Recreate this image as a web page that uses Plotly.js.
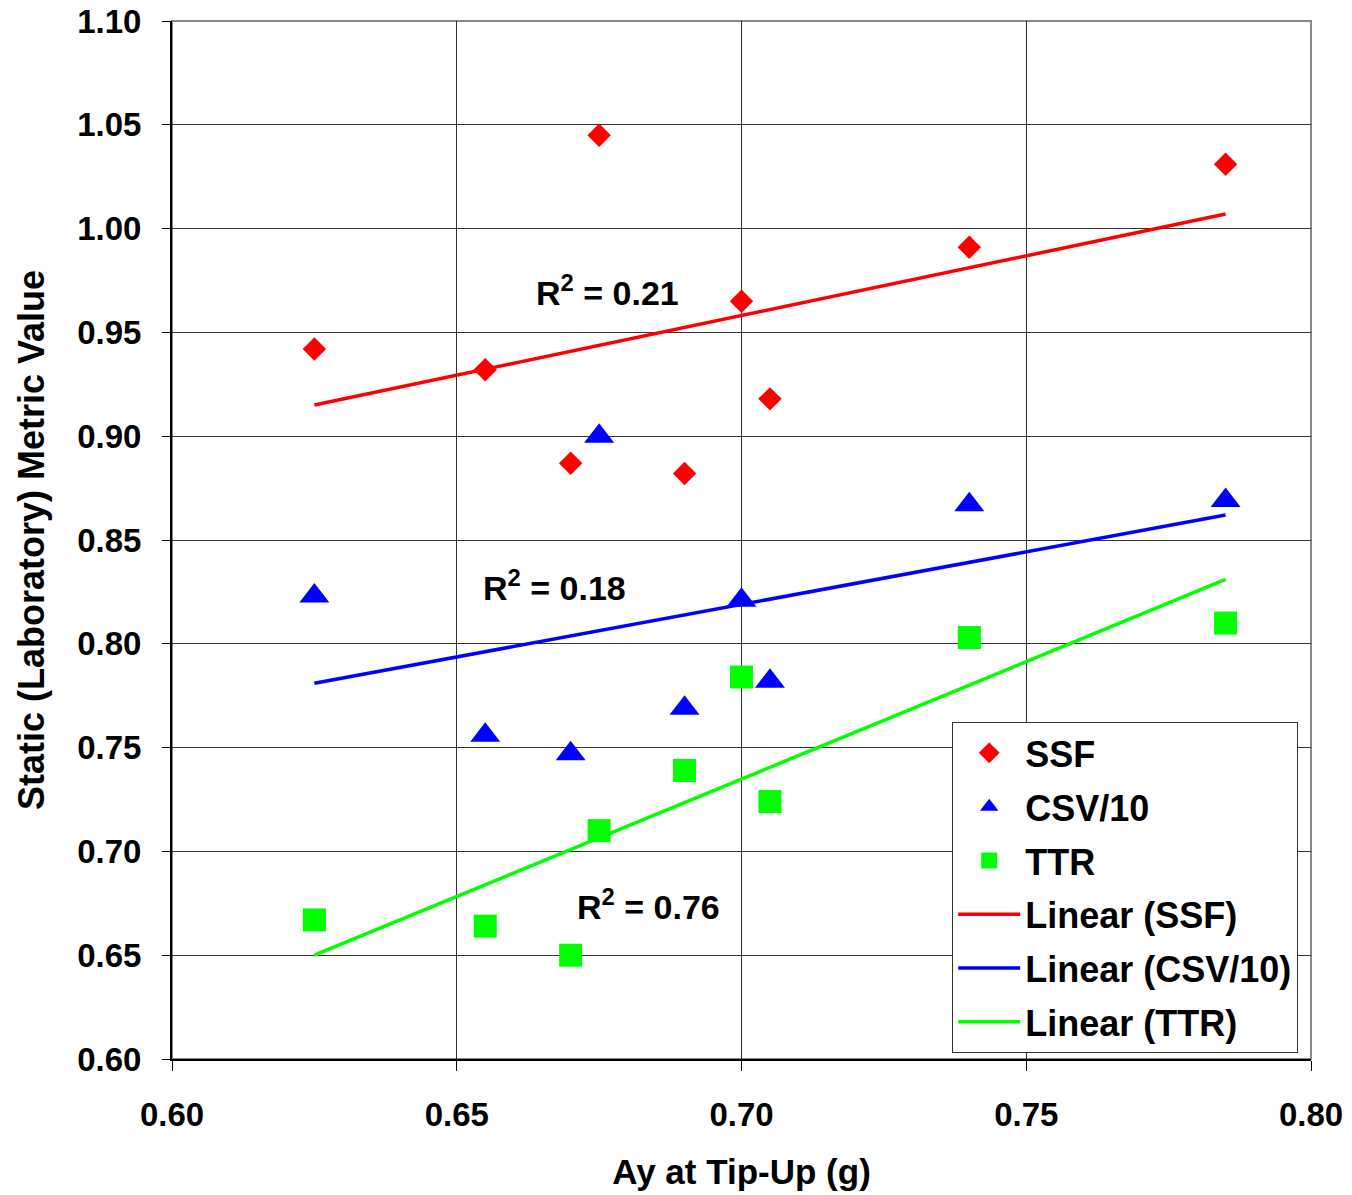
<!DOCTYPE html>
<html>
<head>
<meta charset="utf-8">
<script src="https://cdn.plot.ly/plotly-3.0.1.min.js"></script>
<style>html,body{margin:0;padding:0;background:#fff;}#chart{width:1352px;height:1195px;}</style>
</head>
<body>
<div id="chart"></div>
<script>
// Ay at tip-up (g)
const ayTipUp = [0.625, 0.655, 0.670, 0.675, 0.690, 0.700, 0.705, 0.740, 0.785];
const ssf   = [0.942, 0.932, 0.887, 1.045, 0.882, 0.965, 0.918, 0.991, 1.031];
const csv10 = [0.823, 0.756, 0.747, 0.900, 0.769, 0.821, 0.782, 0.867, 0.869];
const ttr   = [0.667, 0.664, 0.650, 0.710, 0.739, 0.784, 0.724, 0.803, 0.810];

// Trendline end points
const trendX    = [0.625, 0.785];
const trendSSF  = [0.915, 1.007];
const trendCSV  = [0.781, 0.862];
const trendTTR  = [0.650, 0.831];

// R² labels
const r2Text = ["R<sup>2</sup> = 0.21", "R<sup>2</sup> = 0.18", "R<sup>2</sup> = 0.76"];
const r2X = [0.6764, 0.6671, 0.6836];
const r2Y = [0.9704, 0.8283, 0.6742];

const xTicks = [0.60, 0.65, 0.70, 0.75, 0.80];
const yTicks = [0.60, 0.65, 0.70, 0.75, 0.80, 0.85, 0.90, 0.95, 1.00, 1.05, 1.10];

const FONT = "Liberation Sans, Arial, Helvetica, sans-serif";
const RED = "#FF0000", BLUE = "#0000FF", GREEN = "#00FF00";

const traces = [
  {x: ayTipUp, y: ssf, name: "SSF", type: "scatter", mode: "markers", legendgroup: "a",
   marker: {symbol: "diamond", size: 18, color: RED}},
  {x: ayTipUp, y: csv10, name: "CSV/10", type: "scatter", mode: "markers", legendgroup: "b",
   marker: {symbol: "triangle-up", size: 26, color: BLUE}},
  {x: ayTipUp, y: ttr, name: "TTR", type: "scatter", mode: "markers", legendgroup: "c",
   marker: {symbol: "square", size: 23, color: GREEN}},
  {x: trendX, y: trendSSF, name: "Linear (SSF)", type: "scatter", mode: "lines", legendgroup: "d",
   line: {color: RED, width: 3.5}},
  {x: trendX, y: trendCSV, name: "Linear (CSV/10)", type: "scatter", mode: "lines", legendgroup: "e",
   line: {color: BLUE, width: 3.5}},
  {x: trendX, y: trendTTR, name: "Linear (TTR)", type: "scatter", mode: "lines", legendgroup: "f",
   line: {color: GREEN, width: 3.5}}
];

const annotations = r2Text.map((t, i) => ({
  x: r2X[i], y: r2Y[i], xref: "x", yref: "y", text: t, showarrow: false,
  xanchor: "center", yanchor: "middle",
  font: {family: FONT, size: 34, color: "#000", weight: "bold"}
}));

const layout = {
  width: 1352, height: 1195,
  margin: {l: 172, r: 41, t: 21, b: 136},
  paper_bgcolor: "#fff", plot_bgcolor: "#fff",
  font: {family: FONT, color: "#000", weight: "bold"},
  showlegend: true,
  legend: {
    x: 0.685, y: 0.3247, xanchor: "left", yanchor: "top",
    bgcolor: "#fff", bordercolor: "#333", borderwidth: 1,
    font: {family: FONT, size: 36, color: "#000", weight: "bold"},
    tracegroupgap: 4, itemwidth: 62
  },
  xaxis: {
    range: [0.6, 0.8], tickvals: xTicks, tickformat: ".2f",
    tickfont: {family: FONT, size: 33, color: "#000", weight: "bold"},
    showgrid: true, gridcolor: "#333", gridwidth: 1,
    showline: true, linecolor: "#000", linewidth: 2,
    ticks: "outside", ticklen: 10, tickcolor: "#000", tickwidth: 1,
    ticklabelstandoff: 15, zeroline: false,
    title: {text: "Ay at Tip-Up (g)", font: {family: FONT, size: 35, color: "#000", weight: "bold"}, standoff: 28}
  },
  yaxis: {
    range: [0.6, 1.1], tickvals: yTicks, tickformat: ".2f",
    tickfont: {family: FONT, size: 33, color: "#000", weight: "bold"},
    showgrid: true, gridcolor: "#333", gridwidth: 1,
    showline: true, linecolor: "#000", linewidth: 2,
    ticks: "outside", ticklen: 8, tickcolor: "#000", tickwidth: 1,
    ticklabelstandoff: 14, zeroline: false,
    title: {text: "Static (Laboratory) Metric Value", font: {family: FONT, size: 36, color: "#000", weight: "bold"}, standoff: 22}
  },
  shapes: [{type: "rect", xref: "paper", yref: "paper", x0: 0, x1: 1, y0: 0, y1: 1,
            line: {color: "#888", width: 2}, layer: "below"}],
  annotations: annotations
};

Plotly.newPlot("chart", traces, layout, {displayModeBar: false, staticPlot: true});
</script>
</body>
</html>
